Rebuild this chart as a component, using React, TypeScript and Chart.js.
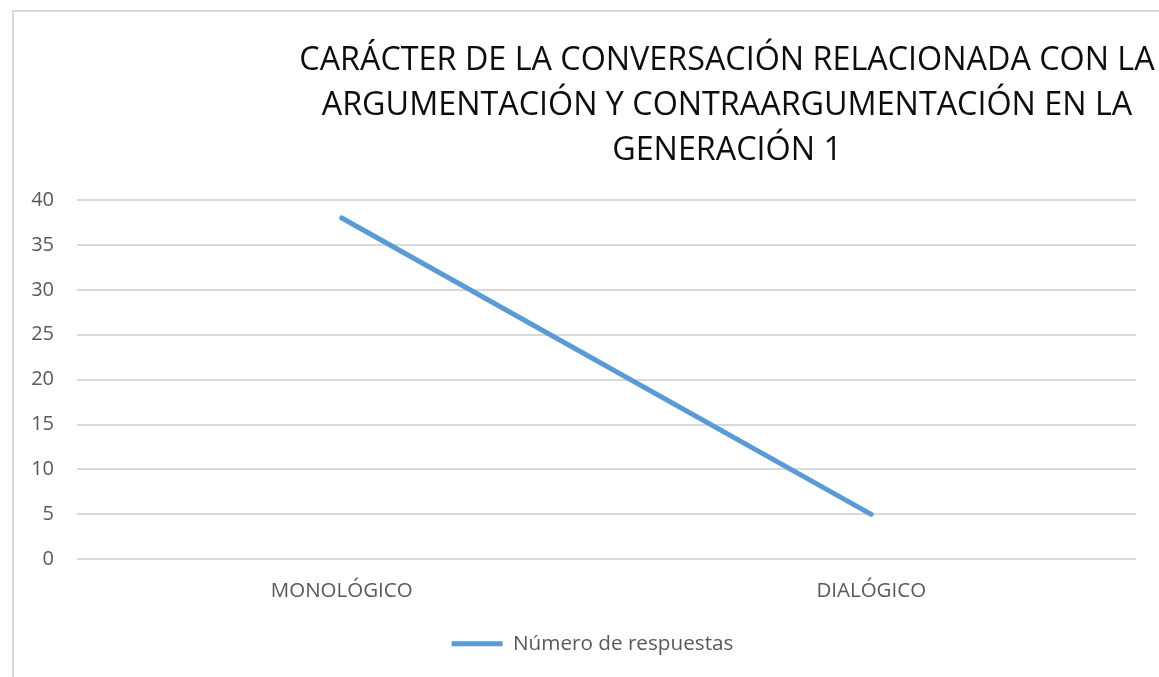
import React, { useEffect, useRef } from "react";
import { Chart, registerables } from "chart.js";

Chart.register(...registerables);

const categories: string[] = ["MONOLÓGICO", "DIALÓGICO"];
const seriesLabel = "Número de respuestas";
const seriesValues: number[] = [38, 5];
const titleLines: string[] = [
  "CARÁCTER DE LA CONVERSACIÓN RELACIONADA CON LA",
  "ARGUMENTACIÓN Y CONTRAARGUMENTACIÓN EN LA",
  "GENERACIÓN 1",
];
const yMin = 0;
const yMax = 40;
const yStep = 5;

const FONT = "'Open Sans', 'DejaVu Sans', sans-serif";

const titlePlugin = {
  id: "customTitle",
  afterLayout(chart: any) {
    if (chart.legend) {
      chart.legend.left -= 14;
      chart.legend.right -= 14;
    }
  },
  afterDraw(chart: any) {
    const ctx = chart.ctx;
    ctx.save();
    ctx.font = `32.3px ${FONT}`;
    ctx.fillStyle = "#0d0d0d";
    ctx.textAlign = "center";
    ctx.textBaseline = "alphabetic";
    const cx = 727;
    const baselines = [70, 115, 160];
    titleLines.forEach((t, i) => ctx.fillText(t, cx, baselines[i]));
    ctx.restore();
  },
};

export default function App() {
  const ref = useRef<HTMLCanvasElement | null>(null);
  useEffect(() => {
    if (!ref.current) return;
    const chart = new Chart(ref.current, {
      type: "line",
      data: {
        labels: categories,
        datasets: [
          {
            label: seriesLabel,
            data: seriesValues,
            borderColor: "#5B9BD5",
            backgroundColor: "#5B9BD5",
            borderWidth: 5,
            borderCapStyle: "round",
            borderJoinStyle: "round",
            pointRadius: 0,
            pointHoverRadius: 0,
            tension: 0,
            fill: false,
          },
        ],
      },
      options: {
        animation: false,
        responsive: true,
        maintainAspectRatio: false,
        layout: { padding: { top: 200, right: 23, left: 0, bottom: 13 } },
        plugins: {
          title: { display: false },
          tooltip: { enabled: false },
          legend: {
            display: true,
            position: "bottom",
            fullSize: false,
            labels: {
              usePointStyle: true,
              pointStyle: "line",
              pointStyleWidth: 51,
              padding: 10,
              color: "#595959",
              font: { family: FONT, size: 20.7 },
            },
          },
        },
        scales: {
          x: {
            type: "category",
            offset: true,
            grid: { display: false, drawTicks: false },
            border: { display: false },
            ticks: {
              color: "#595959",
              font: { family: FONT, size: 20.5 },
              padding: 20,
              maxRotation: 0,
            },
            afterFit: (s: any) => {
              s.height = 64;
            },
          },
          y: {
            min: yMin,
            max: yMax,
            grid: { color: "#d9d9d9", lineWidth: 2, drawTicks: false },
            border: { display: false },
            ticks: {
              stepSize: yStep,
              color: "#595959",
              font: { family: FONT, size: 20 },
              padding: 23,
            },
            afterFit: (s: any) => {
              s.width = 77;
            },
          },
        },
      },
      plugins: [titlePlugin],
    });
    return () => chart.destroy();
  }, []);
  return (
    <div
      style={{
        position: "fixed",
        left: 0,
        top: 0,
        width: 1159,
        height: 677,
        background: "#fff",
        overflow: "hidden",
      }}
    >
      <div
        style={{
          position: "absolute",
          left: 12,
          top: 10,
          width: 1300,
          height: 800,
          borderLeft: "2px solid #d9d9d9",
          borderTop: "2px solid #d9d9d9",
        }}
      />
      <canvas ref={ref} style={{ position: "absolute", left: 0, top: 0 }} width={1159} height={677} />
    </div>
  );
}
